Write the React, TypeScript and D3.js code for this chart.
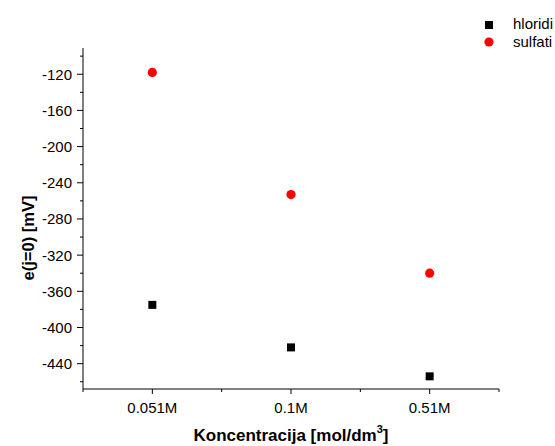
import React from "react";
import * as d3 from "d3";

const categories = ["0.051M", "0.1M", "0.51M"];
const hloridi = [-375, -422, -454];
const sulfati = [-118, -253, -340];
const yTicks = [-120, -160, -200, -240, -280, -320, -360, -400, -440];
const yMinor = [-100, -140, -180, -220, -260, -300, -340, -380, -420, -460];
const xMinor = [0.5, 1.5, 2.5, 3.5];

const WIDTH = 555;
const HEIGHT = 446;
const LEFT = 83;
const RIGHT = 499;
const TOP = 48;
const BOTTOM = 389;
const FONT = "Liberation Sans, Arial, sans-serif";

const App = () => {
  const x = d3.scaleLinear().domain([0.5, 3.5]).range([LEFT, RIGHT]);
  const y = d3.scaleLinear().domain([-468, -91]).range([BOTTOM, TOP]);

  return (
    <svg
      width={WIDTH}
      height={HEIGHT}
      style={{ position: "absolute", left: 0, top: 0 }}
      fontFamily={FONT}
    >
      <rect width={WIDTH} height={HEIGHT} fill="#fff" />

      {/* y axis */}
      <line x1={LEFT} x2={LEFT} y1={TOP} y2={BOTTOM} stroke="#000" />
      {yTicks.map((t) => (
        <g key={t}>
          <line x1={LEFT - 6} x2={LEFT} y1={y(t)} y2={y(t)} stroke="#000" />
          <text
            x={LEFT - 11}
            y={y(t)}
            dy="0.36em"
            textAnchor="end"
            fontSize={15}
          >
            {t}
          </text>
        </g>
      ))}
      {yMinor.map((t) => (
        <line key={t} x1={LEFT - 3} x2={LEFT} y1={y(t)} y2={y(t)} stroke="#000" />
      ))}

      {/* x axis */}
      <line x1={LEFT} x2={RIGHT} y1={BOTTOM} y2={BOTTOM} stroke="#000" />
      {categories.map((c, i) => (
        <g key={c}>
          <line x1={x(i + 1)} x2={x(i + 1)} y1={BOTTOM} y2={BOTTOM + 5} stroke="#000" />
          <text x={x(i + 1)} y={BOTTOM + 24} textAnchor="middle" fontSize={15}>
            {c}
          </text>
        </g>
      ))}
      {xMinor.map((t) => (
        <line key={t} x1={x(t)} x2={x(t)} y1={BOTTOM} y2={BOTTOM + 3} stroke="#000" />
      ))}

      {/* points */}
      {hloridi.map((v, i) => (
        <rect
          key={"h" + i}
          x={x(i + 1) - 4}
          y={y(v) - 4}
          width={8}
          height={8}
          fill="#000"
        />
      ))}
      {sulfati.map((v, i) => (
        <circle key={"s" + i} cx={x(i + 1)} cy={y(v)} r={4.6} fill="#ff0000" />
      ))}

      {/* titles */}
      <text
        transform={`translate(34, 238) rotate(-90)`}
        textAnchor="middle"
        fontSize={16.5}
        fontWeight="bold"
      >
        e(j=0) [mV]
      </text>
      <text x={291} y={441} textAnchor="middle" fontSize={17} fontWeight="bold">
        Koncentracija [mol/dm
        <tspan dy={-8} fontSize={11}>3</tspan>
        <tspan dy={8}>]</tspan>
      </text>

      {/* legend */}
      <rect x={485} y={21} width={8} height={8} fill="#000" />
      <text x={513} y={29} fontSize={15}>hloridi</text>
      <circle cx={489} cy={42} r={4.6} fill="#ff0000" />
      <text x={513} y={47} fontSize={15}>sulfati</text>
    </svg>
  );
};

export default App;
